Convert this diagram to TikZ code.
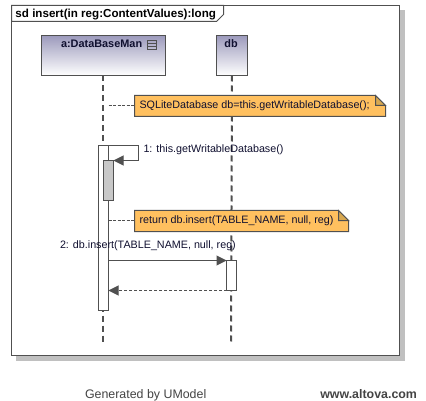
\documentclass[tikz,border=0pt]{standalone}
\usepackage{fontspec}
\setmainfont{Liberation Sans}
\usetikzlibrary{arrows.meta}
\definecolor{ln}{HTML}{505050}
\definecolor{notefill}{HTML}{FFC05F}
\definecolor{foldfill}{HTML}{D8A850}
\definecolor{shadowc}{HTML}{C0C0C0}
\definecolor{top}{HTML}{9C9ABC}
\definecolor{act}{HTML}{C8C8C8}
\definecolor{txt}{HTML}{101030}
\tikzset{
  x=1pt,y=-1pt,
  every node/.style={inner sep=0pt,outer sep=0pt},
  objbox/.style={draw=ln,line width=1pt,top color=top,bottom color=white,anchor=north west},
  lifeln/.style={draw=ln,line width=2pt,dash pattern=on 6pt off 4pt},
  actbox/.style={draw=ln,line width=1pt,fill=white,anchor=north west},
  linkln/.style={draw=ln,line width=.8pt,dash pattern=on 3pt off 1.5pt},
  notebody/.style={draw=ln,line width=1pt,fill=notefill,line join=miter},
  msg/.style={draw=ln,line width=1pt,-{Triangle[length=10pt,width=10pt,fill=ln]}},
  retmsg/.style={draw=ln,line width=1pt,dash pattern=on 3pt off 2pt,-{Triangle[length=10pt,width=10pt,fill=ln]}},
  lbl/.style={anchor=base west,font=\fontsize{10.75}{12}\selectfont,text=txt},
}
\begin{document}
\begin{tikzpicture}
\useasboundingbox (0,0) rectangle (426,401);
\fill[white] (0,0) rectangle (426,401);
% frame
\fill[shadowc] (16,10) rectangle (405,361);
\node[draw=ln,line width=1pt,fill=white,minimum width=388pt,minimum height=350pt,anchor=north west] (frame) at (11.5,5.5) {};
\draw[draw=ln,line width=1pt,fill=white] (11.5,5.5) -- (223.5,5.5) -- (223.5,14.5) -- (216.5,21.5) -- (11.5,21.5) -- cycle;
\node[anchor=base west,font=\fontsize{11.6}{13}\selectfont\bfseries,text=black] (title) at (15.5,17.5) {sd insert(in reg:ContentValues):long};
% coordinates
\coordinate (aend) at (103,342);
\coordinate (dend) at (231,342);
% lifelines
\node[objbox,minimum width=124pt,minimum height=40pt] (a) at (41.5,35.5) {};
\node[objbox,minimum width=31pt,minimum height=40pt] (db) at (216.5,35.5) {};
\node[anchor=base west,font=\fontsize{10.9}{12}\selectfont\bfseries,text=txt] (alabel) at (61,48) {a:DataBaseMan};
\node[anchor=base,font=\fontsize{10.9}{12}\selectfont\bfseries,text=txt] (dlabel) at (231,48) {db};
\draw[ln,line width=1pt] (147,40.5) rectangle (156.5,49.5) (147,43.5) -- (156.5,43.5) (147,46.5) -- (156.5,46.5);
\draw[lifeln] (a.south -| aend) -- (aend);
\draw[lifeln] (db.south) -- (dend);
% notes
\coordinate (n1a) at (134.5,105.5);
\coordinate (n2a) at (134.5,220.5);
\coordinate (aa) at (108.5,105.5);
\coordinate (ab) at (108.5,220.5);
\draw[linkln] (aa) -- (n1a);
\path[notebody] (134.5,95.5) -- (375.5,95.5) -- (385.5,105.5) -- (385.5,116.5) -- (134.5,116.5) -- cycle;
\path[draw=ln,line width=1pt,fill=foldfill] (375.5,95.5) -- (385.5,105.5) -- (375.5,105.5) -- cycle;
\node[lbl] (note1) at (139.5,108.5) {SQLiteDatabase db=this.getWritableDatabase();};
% activations
\node[actbox,minimum width=10pt,minimum height=165pt] (act1) at (98.5,145.5) {};
\node[actbox,fill=act,minimum width=10pt,minimum height=40pt] (act2) at (103.5,160.5) {};
\node[actbox,minimum width=10pt,minimum height=30pt] (act3) at (226.5,260.5) {};
\draw[linkln] (ab) -- (n2a);
\path[notebody] (134.5,210.5) -- (338.5,210.5) -- (348.5,220.5) -- (348.5,231.5) -- (134.5,231.5) -- cycle;
\path[draw=ln,line width=1pt,fill=foldfill] (338.5,210.5) -- (348.5,220.5) -- (338.5,220.5) -- cycle;
\node[lbl] (note2) at (139.5,223.5) {return db.insert(TABLE\_NAME, null, reg)};
% messages
\draw[msg] (act1.north east) -- (138.5,145.5) -- (138.5,160.5) -- (act2.north east);
\node[lbl] (m1) at (143.5,153) {1: this.getWritableDatabase()};
\node[lbl] (m2) at (60,248.5) {2: db.insert(TABLE\_NAME, null, reg)};
\coordinate (m2s) at (108.5,260.5);
\coordinate (r2e) at (108.5,290.5);
\draw[msg] (m2s) -- (act3.north west);
\draw[retmsg] (act3.south west) -- (r2e);
% footer
\node[anchor=base west,font=\fontsize{12.4}{14}\selectfont,text=ln!85!black] (gen) at (85,398) {Generated by UModel};
\node[anchor=base east,font=\fontsize{12.4}{14}\selectfont\bfseries,text=ln!85!black] (url) at (417,398) {www.altova.com};
\end{tikzpicture}
\end{document}
